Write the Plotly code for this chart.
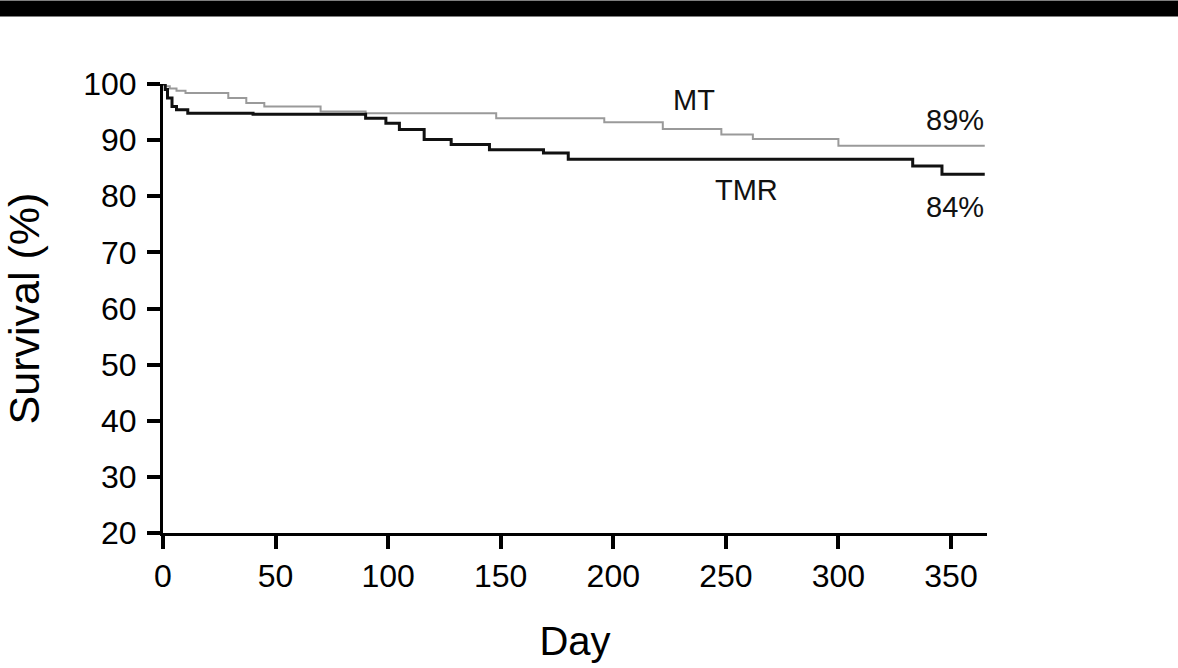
import plotly.graph_objects as go

# Kaplan-Meier step data (day, survival %)
mt_day = [0, 1, 3, 6, 10, 29, 37, 45, 70, 90, 148, 196, 222, 248, 262, 300, 365]
mt_surv = [100, 99.6, 99.2, 98.8, 98.4, 97.5, 96.6, 96.0, 95.1, 94.8, 93.9, 93.2, 92.0, 91.0, 90.2, 89.0, 89.0]

tmr_day = [0, 1, 2, 4, 6, 11, 40, 90, 99, 105, 116, 128, 145, 169, 180, 333, 346, 365]
tmr_surv = [100, 99.0, 97.5, 96.0, 95.4, 94.8, 94.6, 93.9, 93.0, 91.9, 90.1, 89.2, 88.3, 87.7, 86.6, 85.4, 83.9, 83.9]

y_ticks = [20, 30, 40, 50, 60, 70, 80, 90, 100]
x_ticks = [0, 50, 100, 150, 200, 250, 300, 350]

# label text, x (day), y (%)
labels = [("MT", 236, 97.2), ("89%", 352, 93.6), ("TMR", 259, 81.2), ("84%", 352, 78.1)]

FONT = "Liberation Sans, Arial, Helvetica, sans-serif"
W, H = 1178, 668
L, R, T, B = 163, 191, 84, 132

fig = go.Figure()
fig.add_trace(go.Scatter(x=mt_day, y=mt_surv, mode="lines", line_shape="hv",
                         line=dict(color="#9a9a9a", width=2), name="MT"))
fig.add_trace(go.Scatter(x=tmr_day, y=tmr_surv, mode="lines", line_shape="hv",
                         line=dict(color="#111111", width=3), name="TMR"))

for text, x, y in labels:
    fig.add_annotation(x=x, y=y, text=text, showarrow=False,
                       font=dict(family=FONT, size=29, color="#111111"))

# black strip along the top edge of the picture
pw, ph = W - L - R, H - T - B
fig.add_shape(type="rect", xref="paper", yref="paper",
              x0=-L / pw, x1=(W - L) / pw, y0=1 + (T - 16) / ph, y1=1 + T / ph,
              fillcolor="black", line_width=0, layer="above")

axis = dict(showline=True, linewidth=3, linecolor="black", showgrid=False, zeroline=False,
            ticks="outside", ticklen=13, tickwidth=3.5, tickcolor="black",
            tickfont=dict(family=FONT, size=32, color="black"))

fig.update_xaxes(**axis, range=[0, 366], tickvals=x_ticks,
                 title=dict(text="Day", font=dict(family=FONT, size=40, color="black"), standoff=34))
fig.update_yaxes(**axis, range=[20, 100], tickvals=y_ticks, ticklabelstandoff=4,
                 title=dict(text="Survival (%)", font=dict(family=FONT, size=43, color="black"), standoff=34))

fig.update_layout(width=W, height=H, margin=dict(l=L, r=R, t=T, b=B),
                  paper_bgcolor="white", plot_bgcolor="white", showlegend=False)

# drop the page's default body margin so the figure sits at the window corner
fig.write_html("out.html", config={"displayModeBar": False},
               post_script="document.body.style.margin='0';")
